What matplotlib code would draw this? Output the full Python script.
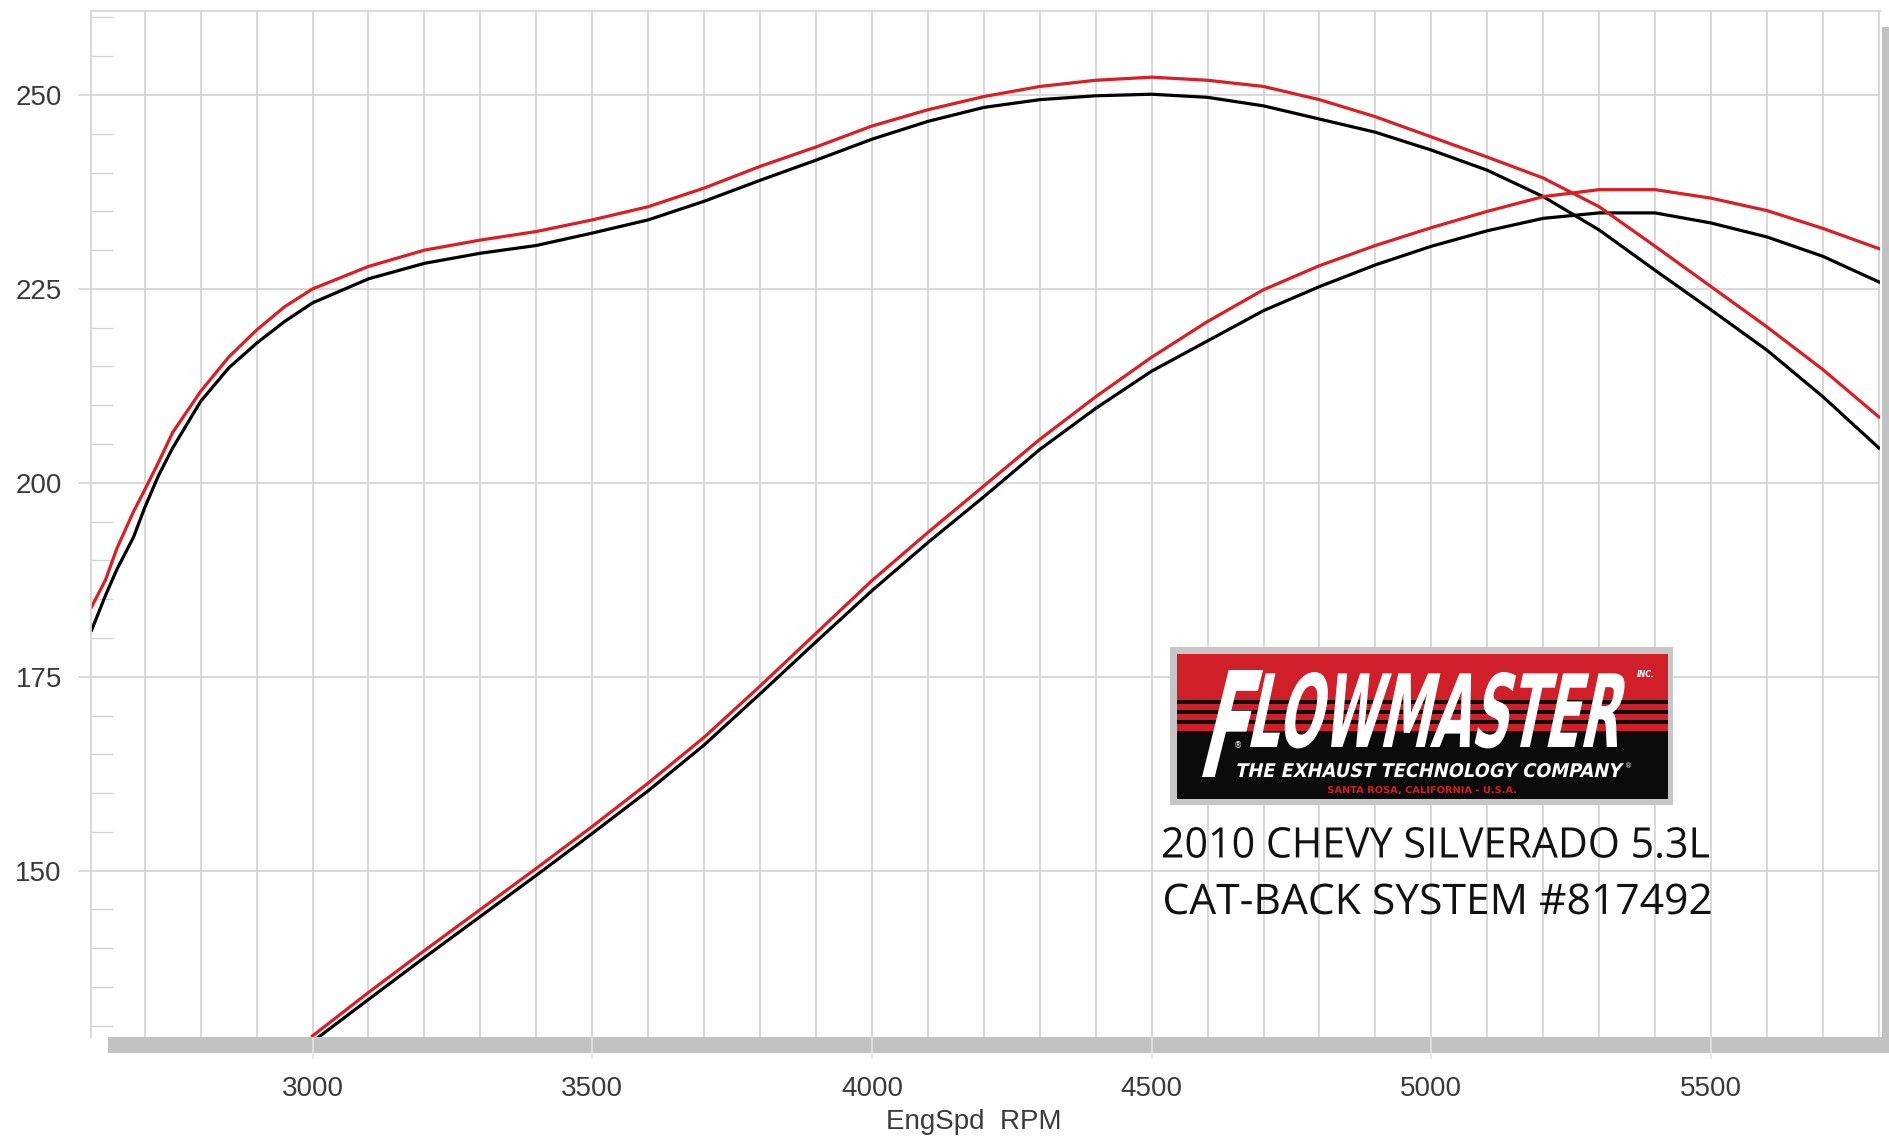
import matplotlib
matplotlib.use("Agg")
import matplotlib.pyplot as plt
import numpy as np
from matplotlib.patches import Rectangle
from matplotlib.patheffects import AbstractPathEffect
from matplotlib.transforms import Affine2D
from matplotlib.textpath import TextPath
from matplotlib.font_manager import FontProperties
from matplotlib.ticker import MultipleLocator

# --- dyno data --------------------------------------------------------------
rpm_tq = [2605, 2630, 2650, 2680, 2700, 2725, 2750, 2800, 2850, 2900, 2950,
          3000, 3100, 3200, 3300, 3400, 3500, 3600, 3700, 3800, 3900, 4000,
          4100, 4200, 4300, 4400, 4500, 4600, 4700, 4800, 4900, 5000, 5100,
          5200, 5300, 5400, 5500, 5600, 5700, 5800]

# torque, Flowmaster cat-back (red)
tq_flow = [184.0, 187.5, 191.5, 196.3, 199.1, 202.7, 206.5, 211.8, 216.2, 219.7,
           222.7, 225.0, 227.9, 230.0, 231.3, 232.4, 233.9, 235.6, 238.0, 240.8,
           243.3, 246.0, 248.1, 249.8, 251.1, 251.9, 252.3, 251.9, 251.1, 249.4,
           247.2, 244.6, 242.0, 239.3, 235.6, 230.5, 225.3, 220.1, 214.6, 208.5]

# torque, stock (black)
tq_stock = [181.0, 185.5, 188.8, 193.0, 196.8, 201.0, 204.5, 210.5, 214.8, 218.0,
            220.8, 223.2, 226.3, 228.3, 229.6, 230.6, 232.2, 233.9, 236.3, 239.0,
            241.6, 244.3, 246.6, 248.4, 249.4, 249.9, 250.1, 249.7, 248.6, 246.9,
            245.2, 242.9, 240.3, 236.9, 232.6, 227.4, 222.3, 217.1, 211.1, 204.5]

rpm_hp_flow = [3000, 3100, 3200, 3300, 3400, 3500, 3600, 3700, 3800, 3900,
               4000, 4100, 4200, 4300, 4400, 4500, 4600, 4700, 4800, 4900,
               5000, 5100, 5200, 5300, 5400, 5500, 5600, 5700, 5800]
hp_flow = [128.7, 134.3, 139.7, 145.0, 150.3, 155.7, 161.3, 167.2, 173.8, 180.6,
           187.4, 193.6, 199.6, 205.6, 211.1, 216.2, 220.8, 224.9, 228.0, 230.6,
           232.9, 235.0, 236.9, 237.8, 237.8, 236.7, 235.1, 232.8, 230.2]

rpm_hp_stock = [3010, 3100, 3200, 3300, 3400, 3500, 3600, 3700, 3800, 3900,
                4000, 4100, 4200, 4300, 4400, 4500, 4600, 4700, 4800, 4900,
                5000, 5100, 5200, 5300, 5400, 5500, 5600, 5700, 5800]
hp_stock = [128.5, 133.4, 138.8, 144.1, 149.4, 154.8, 160.3, 166.2, 172.8, 179.5,
            186.1, 192.3, 198.2, 204.3, 209.6, 214.4, 218.3, 222.2, 225.3, 228.1,
            230.5, 232.5, 234.1, 234.8, 234.8, 233.5, 231.7, 229.2, 225.9]

title_lines = ["2010 CHEVY SILVERADO 5.3L", "CAT-BACK SYSTEM #817492"]

# --- styling -----------------------------------------------------------------
W, H, DPI = 1890, 1138, 100
RED = "#dc1d22"
LOGO_RED = "#d01f29"
GRID = "#d6d6d6"
TXT = "#3a3a3a"
FONT = "Liberation Sans"


class Stretch(AbstractPathEffect):
    """Scale / slant the glyphs of a Text around its origin."""

    def __init__(self, sx=1.0, sy=1.0, skew=0.0):
        super().__init__()
        self._t = Affine2D().scale(sx, sy).skew_deg(skew, 0)

    def draw_path(self, renderer, gc, tpath, affine, rgbFace=None):
        renderer.draw_path(gc, tpath, self._t + affine, rgbFace)


def fit_text(ax, s, x0, x1, top, base, color, family, weight="bold", skew=0.0,
             wscale=1.0):
    # font size picked so the width fits, glyphs then stretched to the height
    k = DPI / 72.0
    h = base - top
    slant = np.tan(np.radians(skew)) * h
    bb0 = TextPath((0, 0), s, prop=FontProperties(family=family, weight=weight,
                                                  size=30)).get_extents()
    size = 30 * (x1 - x0 - slant) / (bb0.width * k) / wscale
    fp = FontProperties(family=family, weight=weight, size=size)
    bb = TextPath((0, 0), s, prop=fp).get_extents()
    sx = (x1 - x0 - slant) / (bb.width * k)
    sy = h / (bb.y1 * k)
    ax.text(x0 - bb.x0 * k * sx, base, s, color=color, fontproperties=fp,
            ha="left", va="baseline", path_effects=[Stretch(sx, sy, skew)])


fig = plt.figure(figsize=(W / DPI, H / DPI), dpi=DPI)
fig.patch.set_facecolor("white")

# background layer: the grey "3D" shadow of the plot frame
bg = fig.add_axes([0, 0, 1, 1], zorder=-1)
bg.set_xlim(0, W)
bg.set_ylim(H, 0)
bg.axis("off")
bg.add_patch(Rectangle((108, 1037), W - 108, 16, color="#c2c2c2", lw=0))
bg.add_patch(Rectangle((1882, 27), 8, 1026, color="#c2c2c2", lw=0))

# main plot
ax = fig.add_axes([91 / W, 1 - 1037 / H, (1880 - 91) / W, (1037 - 11) / H])
ax.plot(rpm_tq, tq_stock, color="black", lw=2.3)
ax.plot(rpm_hp_stock, hp_stock, color="black", lw=2.3)
ax.plot(rpm_tq, tq_flow, color=RED, lw=2.3)
ax.plot(rpm_hp_flow, hp_flow, color=RED, lw=2.3)

ax.set_xlim(2604, 5802)
ax.set_ylim(128.56, 260.83)
ax.xaxis.set_major_locator(MultipleLocator(500))
ax.xaxis.set_minor_locator(MultipleLocator(100))
ax.yaxis.set_major_locator(MultipleLocator(25))
ax.yaxis.set_minor_locator(MultipleLocator(5))
ax.grid(axis="x", which="both", color=GRID, lw=1.3)
ax.grid(axis="y", which="major", color=GRID, lw=1.3)
ax.set_axisbelow(True)

for side in ["right", "bottom"]:
    ax.spines[side].set_visible(False)
for side in ["left", "top"]:
    ax.spines[side].set_color(GRID)
    ax.spines[side].set_linewidth(1.3)

ax.tick_params(axis="y", which="major", direction="out", length=9.5, width=1.2,
               color=GRID, pad=11.5, labelsize=20, labelcolor=TXT)
ax.tick_params(axis="y", which="minor", direction="in", length=16, width=1.0,
               color="#d2d2d2")
ax.tick_params(axis="x", which="major", direction="out", length=16, width=1.2,
               color="#e4e4e4", pad=12, labelsize=20, labelcolor=TXT)
ax.tick_params(axis="x", which="minor", length=0)
for lab in ax.get_xticklabels() + ax.get_yticklabels():
    lab.set_fontfamily(FONT)

# foreground layer: axis title, logo and caption (pixel coords, y down)
fg = fig.add_axes([0, 0, 1, 1], zorder=5)
fg.set_xlim(0, W)
fg.set_ylim(H, 0)
fg.axis("off")
fg.patch.set_alpha(0)

fg.text(974, 1129, "EngSpd  RPM", ha="center", va="baseline",
        fontsize=20, color=TXT, family=FONT)

# Flowmaster logo
fg.add_patch(Rectangle((1170, 647), 503, 158, color="#c6c6c6", lw=0))
fg.add_patch(Rectangle((1177, 654), 491, 145, color=LOGO_RED, lw=0))
fg.add_patch(Rectangle((1177, 731), 491, 68, color="#0b0b0b", lw=0))
for y0 in [700, 710, 720]:
    fg.add_patch(Rectangle((1177, y0), 491, 4, color="#0b0b0b", lw=0))

fit_text(fg, "F", 1202, 1263, 670, 777, "white", "DejaVu Sans", skew=14,
         wscale=1.45)
fit_text(fg, "LOWMASTER", 1250, 1633, 672, 747, "white", "DejaVu Sans", skew=12)
fg.text(1646, 677, "INC.", color="white", fontsize=5.5, weight="bold",
        style="italic", ha="center", va="baseline", family="DejaVu Sans")
fg.text(1238, 748, "\u00ae", color="white", fontsize=6, ha="center",
        va="baseline", family="DejaVu Sans")
fit_text(fg, "THE EXHAUST TECHNOLOGY COMPANY", 1235, 1624, 763, 777, "white",
         "DejaVu Sans", skew=12)
fg.text(1629, 768, "\u00ae", color="white", fontsize=5, ha="center",
        va="baseline", family="DejaVu Sans")
fit_text(fg, "SANTA ROSA, CALIFORNIA - U.S.A.", 1328, 1516, 786, 793, LOGO_RED,
         "DejaVu Sans")

# caption under the logo
fit_text(fg, title_lines[0], 1163, 1709, 827, 857.5, "#111111", "Open Sans",
         weight="normal")
fit_text(fg, title_lines[1], 1165, 1710.5, 883.5, 914, "#111111", "Open Sans",
         weight="normal")

fig.savefig("out.png", dpi=DPI)
